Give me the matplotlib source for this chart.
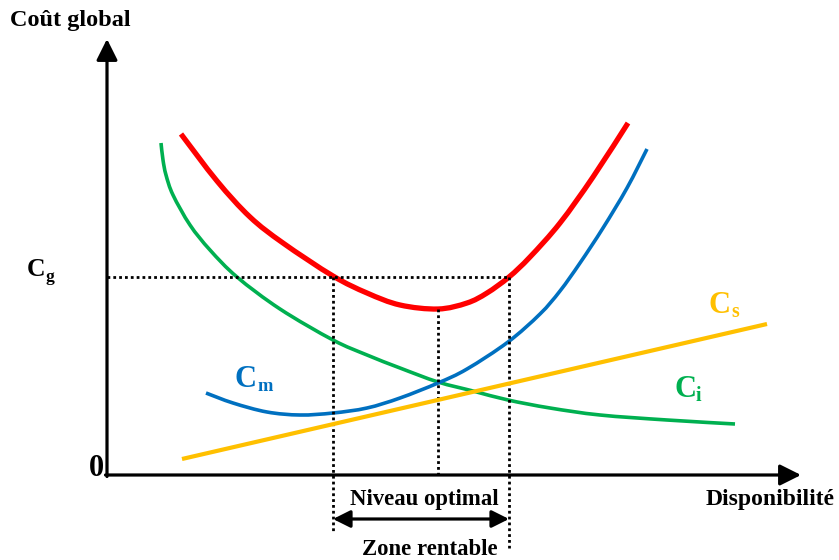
import matplotlib
matplotlib.use("Agg")
import matplotlib.pyplot as plt
from matplotlib.path import Path
from matplotlib.patches import PathPatch

plt.rcParams['font.family'] = ['Liberation Serif', 'DejaVu Serif']
plt.rcParams['font.weight'] = 'bold'

# Coût global (Cg)
cg_x = [74, 110, 143, 176, 226, 260, 293, 331, 360, 380, 402, 423, 453, 486, 521]
cg_y = [341, 294, 258, 232, 199, 182, 170, 166, 172, 182, 198, 218, 252, 298, 352]

# Coût d'indisponibilité (Ci)
ci_x = [54, 56, 59, 66, 83, 103, 130, 173, 226, 260, 293, 331, 366, 401, 443, 493, 560, 628]
ci_y = [332, 315, 300, 280, 250, 225, 198, 166, 135, 120, 107, 93, 84, 75, 67, 60, 55, 51]

# Coût de maintenance (Cm)
cm_x = [99, 126, 160, 193, 226, 260, 293, 331, 360, 401, 433, 453, 473, 496, 520, 540]
cm_y = [82, 72, 63, 60, 62, 67, 77, 92, 106, 133, 161, 184, 212, 247, 287, 326]

# Coût de surveillance (Cs)
cs_x = [75, 660]
cs_y = [16, 151]

# Niveau de coût global retenu et disponibilités associées
cg_level = 198
dispo_min, dispo_opt, dispo_max = 226, 331, 402
cg_min = 166

RED, BLUE, GREEN, YELLOW = '#FF0000', '#0070C0', '#00B050', '#FFC000'

fig = plt.figure(figsize=(8.39, 5.60), dpi=100)
ax = fig.add_axes([0, 0, 1, 1])
ax.set_xlim(-107, 732)
ax.set_ylim(-85, 475)
ax.axis('off')


def smooth_curve(xs, ys, color, lw):
    """Draw a smooth Bezier path passing through the given points."""
    pts = list(zip(xs, ys))
    verts = [pts[0]]
    codes = [Path.MOVETO]
    n = len(pts)
    for i in range(n - 1):
        p0 = pts[i - 1] if i > 0 else pts[i]
        p1, p2 = pts[i], pts[i + 1]
        p3 = pts[i + 2] if i + 2 < n else pts[i + 1]
        c1 = (p1[0] + (p2[0] - p0[0]) / 6, p1[1] + (p2[1] - p0[1]) / 6)
        c2 = (p2[0] - (p3[0] - p1[0]) / 6, p2[1] - (p3[1] - p1[1]) / 6)
        verts += [c1, c2, p2]
        codes += [Path.CURVE4] * 3
    ax.add_patch(PathPatch(Path(verts, codes), facecolor='none', edgecolor=color,
                           lw=lw, capstyle='butt', joinstyle='round'))


# Axes with arrow heads
axis_kw = dict(arrowstyle='-|>', lw=2.3, color='black', mutation_scale=32,
               shrinkA=0, shrinkB=0)
ax.annotate('', xy=(0, 436), xytext=(0, -1.5), arrowprops=axis_kw)
ax.annotate('', xy=(694, 0), xytext=(-1.5, 0), arrowprops=axis_kw)

# Dotted guide lines
dot = dict(color='black', lw=2.0, linestyle=(0, (1, 1.1)))
ax.plot([0, dispo_max], [cg_level, cg_level], **dot)
ax.plot([dispo_min, dispo_min], [cg_level, -58], **dot)
ax.plot([dispo_opt, dispo_opt], [cg_min, 0], **dot)
ax.plot([dispo_max, dispo_max], [cg_level, -73], **dot)

# Cost curves
ax.plot(cs_x, cs_y, color=YELLOW, lw=3.0, solid_capstyle='butt')
smooth_curve(ci_x, ci_y, GREEN, 2.6)
smooth_curve(cm_x, cm_y, BLUE, 2.6)
smooth_curve(cg_x, cg_y, RED, 3.8)

# Profitable zone arrow
ax.annotate('', xy=(dispo_max, -44), xytext=(dispo_min, -44),
            arrowprops=dict(arrowstyle='<|-|>', lw=2.3, color='black',
                            mutation_scale=26, shrinkA=0, shrinkB=0))


def sub_label(x, y, main, sub, color, size, sub_scale=0.7, drop=-1.5):
    t = ax.text(x, y, main, color=color, fontsize=size, fontweight='bold',
                ha='left', va='baseline')
    ax.annotate(sub, xy=(1, 0), xycoords=t, xytext=(0, drop),
                textcoords='offset points', color=color,
                fontsize=size * sub_scale, fontweight='bold',
                ha='left', va='bottom')


sub_label(-80, 199, 'C', 'g', 'black', 18.5, sub_scale=0.68, drop=-3)
sub_label(128, 88, 'C', 'm', BLUE, 22, sub_scale=0.6, drop=-1)
sub_label(602, 162, 'C', 's', YELLOW, 22, sub_scale=0.65, drop=-1.5)
sub_label(567, 78, 'C', 'i', GREEN, 22, sub_scale=0.65, drop=-1.5)

ax.text(-97, 449, 'Coût global', fontsize=17.5, fontweight='bold', ha='left', va='baseline')
ax.text(-3, -1, '0', fontsize=22, fontweight='bold', ha='right', va='baseline')
ax.text(728, -30, 'Disponibilité', fontsize=17, fontweight='bold', ha='right', va='baseline')
ax.text((dispo_min + dispo_max) / 2 + 3, -30, 'Niveau optimal', fontsize=16.4,
        fontweight='bold', ha='center', va='baseline')
ax.text((dispo_min + dispo_max) / 2 + 9, -80, 'Zone rentable', fontsize=16.4,
        fontweight='bold', ha='center', va='baseline')

fig.savefig('out.png', dpi=100)
